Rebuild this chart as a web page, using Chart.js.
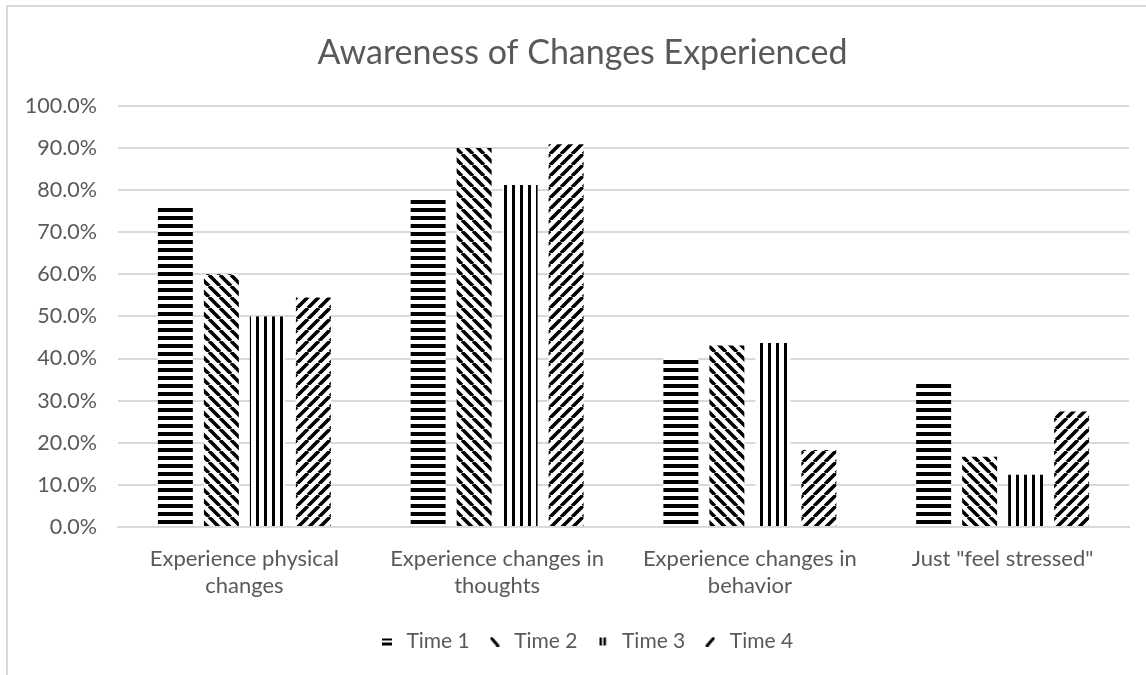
<!DOCTYPE html>
<html>
<head>
<meta charset="utf-8">
<script src="https://cdn.jsdelivr.net/npm/chart.js@4"></script>
<style>
    html, body { margin: 0; padding: 0; background: #fff; }
    #wrap { position: relative; width: 1146px; height: 675px; overflow: hidden; }
    #frame { position: absolute; left: 6px; top: 5px; width: 1160px; height: 700px; border: 2px solid #d9d9d9; }
    #chart { position: absolute; left: 0; top: 0; }
</style>
</head>
<body>
<div id="wrap">
    <div id="frame"></div>
    <canvas id="chart" width="1146" height="675"></canvas>
</div>
<script>
'use strict';

// values (percent)
const categories = [
    ['Experience physical', 'changes'],
    ['Experience changes in', 'thoughts'],
    ['Experience changes in', 'behavior'],
    'Just "feel stressed"'
];
const seriesNames = ['Time 1', 'Time 2', 'Time 3', 'Time 4'];
const time1 = [76.3, 78.4, 40.6, 34.7];
const time2 = [60.0, 90.0, 43.1, 16.7];
const time3 = [50.0, 81.2, 43.7, 12.4];
const time4 = [54.5, 90.9, 18.3, 27.4];
const hatchKinds = ['horizontal', 'down', 'vertical', 'up'];

const TEXT = '#595959';
const GRID = '#d9d9d9';
const FONT = "Lato, 'Open Sans', sans-serif";

// small tiles used as bar fills
function makePattern(kind) {
    const c = document.createElement('canvas');
    const s = (kind === 'down' || kind === 'up') ? 11 : 8;
    c.width = s; c.height = s;
    const g = c.getContext('2d');
    g.fillStyle = '#fff';
    g.fillRect(0, 0, s, s);
    g.fillStyle = '#000';
    g.strokeStyle = '#000';
    if (kind === 'horizontal') {
        g.fillRect(0, 0, s, 4);
    } else if (kind === 'vertical') {
        g.fillRect(0, 0, 3, s);
    } else {
        g.lineWidth = 3.6;
        g.beginPath();
        for (const o of [-s, 0, s]) {
            if (kind === 'down') { g.moveTo(o, 0); g.lineTo(o + s, s); }
            else { g.moveTo(o, s); g.lineTo(o + s, 0); }
        }
        g.stroke();
    }
    return g.createPattern(c, 'repeat');
}

// legend markers
function makeIcon(kind) {
    const c = document.createElement('canvas');
    c.width = 10; c.height = 10;
    const g = c.getContext('2d');
    g.fillStyle = '#000';
    g.strokeStyle = '#000';
    if (kind === 'horizontal') {
        g.fillRect(0, 2, 10, 2);
        g.fillRect(0, 6, 10, 3);
    } else if (kind === 'vertical') {
        g.fillRect(2, 1, 2.5, 8);
        g.fillRect(6, 1, 2.5, 8);
    } else {
        g.lineWidth = 3;
        g.lineCap = 'round';
        g.beginPath();
        if (kind === 'down') { g.moveTo(2, 2); g.lineTo(8, 9); }
        else { g.moveTo(2, 9); g.lineTo(8, 2); }
        g.stroke();
    }
    return c;
}

// title and legend sit a bit right of the canvas centre in the original
const nudge = {
    id: 'nudge',
    afterLayout(chart) {
        if (chart.titleBlock) { chart.titleBlock.left += 18; chart.titleBlock.right += 18; }
        if (chart.legend) { chart.legend.left += 21; chart.legend.right += 21; }
    }
};

const ctx = document.getElementById('chart').getContext('2d');
const seriesValues = [time1, time2, time3, time4];

const datasets = seriesNames.map((name, i) => ({
    label: name,
    data: seriesValues[i],
    backgroundColor: makePattern(hatchKinds[i]),
    borderWidth: 0,
    categoryPercentage: 0.728,
    barPercentage: 0.76
}));
const icons = hatchKinds.map(makeIcon);

new Chart(ctx, {
    type: 'bar',
    data: { labels: categories, datasets },
    plugins: [nudge],
    options: {
        responsive: false,
        animation: false,
        layout: { padding: { left: 0, right: 17, top: 0, bottom: 13 } },
        plugins: {
            title: {
                display: true,
                text: 'Awareness of Changes Experienced',
                color: TEXT,
                font: { family: FONT, size: 34, weight: 'normal' },
                padding: { top: 33, bottom: 32 }
            },
            legend: {
                position: 'bottom',
                labels: {
                    color: TEXT,
                    font: { family: FONT, size: 21 },
                    usePointStyle: true,
                    pointStyleWidth: 18,
                    boxWidth: 10,
                    boxHeight: 10,
                    padding: 16,
                    generateLabels: (chart) => chart.data.datasets.map((ds, i) => ({
                        text: ds.label,
                        pointStyle: icons[i],
                        fontColor: TEXT,
                        lineWidth: 0,
                        datasetIndex: i
                    }))
                }
            },
            tooltip: { enabled: false }
        },
        scales: {
            x: {
                grid: { display: false },
                border: { color: GRID, width: 2 },
                ticks: {
                    color: TEXT,
                    font: { family: FONT, size: 22 },
                    padding: 11,
                    maxRotation: 0,
                    autoSkip: false
                },
                afterFit: (scale) => { scale.height = 88; }
            },
            y: {
                min: 0,
                max: 100,
                grid: { color: GRID, lineWidth: 2, drawTicks: false },
                border: { display: false },
                ticks: {
                    stepSize: 10,
                    color: TEXT,
                    font: { family: FONT, size: 21.5 },
                    padding: 21,
                    callback: (v) => v.toFixed(1) + '%'
                },
                afterFit: (scale) => { scale.width = 118; }
            }
        }
    }
});
</script>
</body>
</html>
